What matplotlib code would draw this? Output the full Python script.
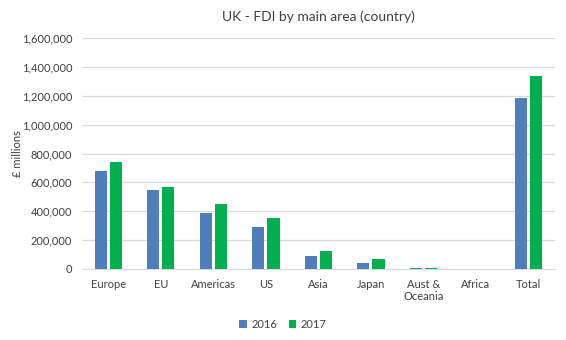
import matplotlib.pyplot as plt
import numpy as np
from matplotlib.ticker import FuncFormatter

categories = ["Europe", "EU", "Americas", "US", "Asia", "Japan", "Aust &\nOceania", "Africa", "Total"]
fdi_2016 = [680000, 548000, 388000, 292000, 90000, 42000, 7000, 0, 1185000]
fdi_2017 = [742000, 568000, 450000, 352000, 125000, 70000, 8000, 0, 1338000]

plt.rcParams["font.family"] = ["Lato", "DejaVu Sans"]

fig = plt.figure(figsize=(5.66, 3.40), dpi=100)
ax = fig.add_axes([0.145, 0.209, 0.835, 0.679])

x = np.arange(len(categories))
w = 0.23
ax.bar(x - w / 2 - 0.03, fdi_2016, w, color="#4F7EBB", label="2016", zorder=3)
ax.bar(x + w / 2 + 0.03, fdi_2017, w, color="#00B050", label="2017", zorder=3)

ax.set_xlim(-0.5, len(categories) - 0.5)
ax.set_ylim(0, 1600000)
ax.set_yticks(np.arange(0, 1600001, 200000))
ax.yaxis.set_major_formatter(FuncFormatter(lambda v, p: f"{int(v):,}"))
ax.set_xticks(x)
ax.set_xticklabels(categories, multialignment="center")
ax.grid(axis="y", color="#D9D9D9", linewidth=0.9, zorder=0)
for s in ["top", "right", "left"]:
    ax.spines[s].set_visible(False)
ax.spines["bottom"].set_color("#D9D9D9")
ax.tick_params(axis="both", length=0, labelsize=8, colors="#404040", pad=7)

ax.set_ylabel("£ millions", fontsize=8, color="#404040")
ax.yaxis.set_label_coords(-0.125, 0.5)
ax.set_title("UK - FDI by main area (country)", fontsize=10, color="#404040", pad=12)

fig.legend(loc="lower center", bbox_to_anchor=(0.5, 0.0), ncol=2, frameon=False,
           fontsize=8, handlelength=0.7, handleheight=0.7, columnspacing=1.0,
           handletextpad=0.4, labelcolor="#404040")

fig.savefig("out.png", dpi=100)
